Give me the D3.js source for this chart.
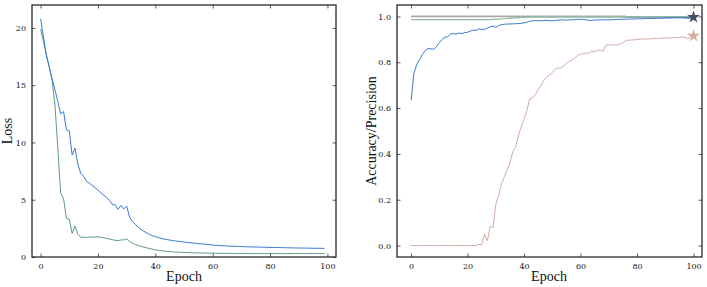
<!DOCTYPE html>
<html><head><meta charset="utf-8">
<script src="https://cdn.jsdelivr.net/npm/d3@7"></script>
<style>
html,body{margin:0;padding:0;background:#fff;}
svg{display:block;}
.tick text{font-family:"DejaVu Serif",serif;font-size:8px;fill:#111;}
.lab{font-family:"Liberation Serif","DejaVu Serif",serif;font-size:14px;fill:#111;}
</style></head><body>
<svg id="c" width="707" height="287"></svg>
<script>
// ---------- DATA ----------
const epochsLoss = d3.range(0, 100);
const lossBlue = [20.8,19.2,17.6,16.6,15.6,14.6,13.6,12.5,12.7,11.1,
11.0,8.9,9.5,8.1,7.3,7.05,6.6,6.45,6.25,6.05,
5.85,5.6,5.4,5.2,4.95,4.6,4.55,4.15,4.5,4.2,
4.45,3.5,3.1,2.85,2.6,2.4,2.25,2.1,1.97,1.86,
1.78,1.7,1.63,1.57,1.52,1.48,1.44,1.4,1.37,1.34,
1.31,1.28,1.25,1.22,1.2,1.17,1.15,1.12,1.1,1.08,
1.04,1.02,1.0,0.99,0.98,0.96,0.95,0.94,0.93,0.92,
0.91,0.9,0.89,0.885,0.88,0.87,0.865,0.86,0.85,0.845,
0.84,0.835,0.83,0.825,0.82,0.81,0.805,0.8,0.795,0.79,
0.785,0.78,0.78,0.775,0.77,0.765,0.76,0.76,0.755,0.75];
const lossGreen = [19.9,18.8,17.7,16.6,15.4,13.3,9.5,5.6,5.1,3.35,
3.3,2.05,2.7,2.0,1.7,1.75,1.7,1.75,1.72,1.75,
1.76,1.72,1.68,1.62,1.57,1.52,1.46,1.42,1.5,1.48,
1.6,1.35,1.2,1.1,1.0,0.93,0.86,0.8,0.74,0.68,
0.62,0.58,0.55,0.52,0.49,0.47,0.45,0.43,0.42,0.41,
0.4,0.39,0.38,0.37,0.36,0.355,0.35,0.345,0.34,0.335,
0.33,0.33,0.325,0.32,0.32,0.315,0.315,0.31,0.31,0.31,
0.305,0.305,0.305,0.3,0.3,0.3,0.3,0.3,0.3,0.3,
0.3,0.3,0.3,0.3,0.3,0.3,0.3,0.3,0.3,0.3,
0.3,0.3,0.3,0.3,0.3,0.3,0.3,0.3,0.3,0.3];

const epochsAcc = d3.range(0, 101);
const accBlue = [0.634,0.753,0.79,0.812,0.834,0.851,0.861,0.858,0.857,0.868,
0.886,0.9,0.91,0.911,0.924,0.925,0.923,0.928,0.925,0.93,
0.931,0.936,0.94,0.939,0.946,0.943,0.944,0.949,0.955,0.958,
0.953,0.96,0.964,0.966,0.967,0.967,0.968,0.968,0.969,0.97,
0.972,0.975,0.979,0.981,0.982,0.982,0.981,0.982,0.983,0.982,
0.981,0.982,0.984,0.985,0.985,0.984,0.985,0.986,0.986,0.987,
0.988,0.987,0.985,0.983,0.983,0.984,0.985,0.985,0.986,0.985,
0.985,0.986,0.986,0.987,0.987,0.988,0.988,0.989,0.989,0.989,
0.99,0.99,0.99,0.991,0.991,0.991,0.991,0.992,0.992,0.992,
0.993,0.993,0.993,0.994,0.994,0.994,0.994,0.993,0.992,0.992,0.993];
const precPink = [0,0,0,0,0,0,0,0,0,0,
0,0,0,0,0,0,0,0,0,0,
0,0,0,0,0.005,0.003,0.05,0.02,0.085,0.078,
0.18,0.22,0.27,0.3,0.33,0.36,0.41,0.43,0.48,0.52,
0.55,0.59,0.64,0.645,0.66,0.68,0.7,0.72,0.735,0.745,
0.755,0.77,0.775,0.775,0.785,0.795,0.805,0.81,0.82,0.83,
0.835,0.838,0.84,0.84,0.85,0.845,0.852,0.852,0.848,0.875,
0.875,0.876,0.876,0.876,0.88,0.885,0.895,0.897,0.897,0.898,
0.9,0.9,0.902,0.901,0.903,0.902,0.904,0.903,0.905,0.905,
0.906,0.907,0.906,0.908,0.908,0.909,0.91,0.909,0.902,0.912,0.915];
const accGreen = [0.986,0.986,0.986,0.986,0.986,0.986,0.986,0.986,0.986,0.986,
0.986,0.986,0.986,0.986,0.986,0.986,0.986,0.986,0.986,0.986,
0.986,0.986,0.986,0.986,0.986,0.986,0.986,0.986,0.986,0.987,
0.987,0.988,0.989,0.99,0.991,0.992,0.993,0.994,0.995,0.996,
0.997,0.997,0.998,0.998,0.999,0.999,0.999,0.999,0.999,0.999,
0.999,0.999,0.999,0.999,0.999,0.999,0.999,0.999,0.999,0.999,
0.999,0.999,0.999,0.999,0.999,0.999,0.999,0.999,0.999,0.999,
0.999,0.999,0.999,0.999,0.999,0.999,0.999,0.999,0.999,0.999,
0.999,0.999,0.999,0.999,0.999,0.999,0.999,0.999,0.999,0.999,
0.999,0.999,0.999,0.999,0.999,0.999,0.999,0.999,0.999,0.999,0.999];
const accGray = [1,1,1,1,1,1,1,1,1,1,1,1,1,1,1,1,1,1,1,1,
1,1,1,1,1,1,1,1,1,1,1,1,1,1,1,1,1,1,1,1,
1,1,1,1,1,1,1,1,1,1,1,1,1,1,1,1,1,1,1,1,
1,1,1,1,1,1,1,1,1,1,1,1,1,1,1,1,1];
const accNavy = [1,1,1,1,1,1,1,1,1,1,1,1,1,1,1,1,1,1,1,1,
1,1,1,1,1,1,1,1,1,1,1,1,1,1,1,1,1,1,1,1,
0.999,0.999,0.999,0.999,0.999,0.999,0.999,0.999,0.999,0.999,
0.999,0.999,0.999,0.999,0.999,0.999,0.999,0.999,0.999,0.999,
0.999,0.999,0.999,0.999,0.999,0.999,0.999,0.999,0.999,0.999,
0.999,0.999,0.999,0.999,0.999,0.999,0.998,0.998,0.998,0.998,
0.998,0.998,0.998,0.998,0.998,0.998,0.998,0.998,0.998,0.998,
0.997,0.997,0.997,0.997,0.997,0.997,0.997,0.997,0.997,0.997,0.997];
const starPoints = [{x:100, y:0.997, c:"#4a4a68"}, {x:100, y:0.915, c:"#d3aba4"}];

const lossTicksX = [0,20,40,60,80,100];
const lossTicksY = [0,5,10,15,20];
const accTicksX = [0,20,40,60,80,100];
const accTicksY = [0,0.2,0.4,0.6,0.8,1.0];

// ---------- DRAW ----------
const svg = d3.select("#c");

function frame(g, x, y, tx, ty, fmtY) {
  const [x0, x1] = x.range(), [y0, y1] = y.range();
  const tl = 3.5;
  g.append("g").attr("transform", `translate(0,${y0})`)
    .call(d3.axisBottom(x).tickValues(tx).tickSize(-tl).tickPadding(6).tickFormat(d3.format("d")))
    .call(a => a.select(".domain").remove());
  g.append("g").attr("transform", `translate(0,${y1})`)
    .call(d3.axisTop(x).tickValues(tx).tickSize(-tl).tickFormat(""))
    .call(a => a.select(".domain").remove());
  g.append("g").attr("transform", `translate(${x0},0)`)
    .call(d3.axisLeft(y).tickValues(ty).tickSize(-tl).tickPadding(6).tickFormat(fmtY))
    .call(a => a.select(".domain").remove());
  g.append("g").attr("transform", `translate(${x1},0)`)
    .call(d3.axisRight(y).tickValues(ty).tickSize(-tl).tickFormat(""))
    .call(a => a.select(".domain").remove());
  g.selectAll(".tick line").attr("stroke", "#333").attr("stroke-width", 0.8);
  g.append("rect").attr("x", x0).attr("y", y1).attr("width", x1 - x0).attr("height", y0 - y1)
    .attr("fill", "none").attr("stroke", "#2a2a2a").attr("stroke-width", 1.3);
}

// Left: Loss
const xL = d3.scaleLinear().domain([-3, 103]).range([32, 336]);
const yL = d3.scaleLinear().domain([0, 22]).range([257, 5]);
const gL = svg.append("g");
const lineL = arr => d3.line().x((d, i) => xL(epochsLoss[i])).y(d => yL(d))(arr);
gL.append("path").attr("d", lineL(lossGreen)).attr("fill", "none").attr("stroke", "#5f9a82").attr("stroke-width", 1);
gL.append("path").attr("d", lineL(lossBlue)).attr("fill", "none").attr("stroke", "#3a78d2").attr("stroke-width", 1);
frame(gL, xL, yL, lossTicksX, lossTicksY, d3.format("d"));
gL.append("text").attr("class", "lab").attr("text-anchor", "middle")
  .attr("transform", `translate(12,${(5 + 257) / 2}) rotate(-90)`).text("Loss");
gL.append("text").attr("class", "lab").attr("text-anchor", "middle")
  .attr("x", 184).attr("y", 281).text("Epoch");

// Right: Accuracy/Precision
const xR = d3.scaleLinear().domain([-5, 103]).range([397, 702]);
const yR = d3.scaleLinear().domain([-0.05, 1.05]).range([257, 5]);
const gR = svg.append("g");
const lineR = arr => d3.line().x((d, i) => xR(epochsAcc[i])).y(d => yR(d))(arr);
gR.append("path").attr("d", lineR(accNavy)).attr("fill", "none").attr("stroke", "#4a4a68").attr("stroke-width", 1.1);
gR.append("path").attr("d", lineR(accGray)).attr("fill", "none").attr("stroke", "#a9a9ab").attr("stroke-width", 1.8);
gR.append("path").attr("d", lineR(accGreen)).attr("fill", "none").attr("stroke", "#8db8a3").attr("stroke-width", 1.2);
gR.append("path").attr("d", lineR(precPink)).attr("fill", "none").attr("stroke", "#d3aba4").attr("stroke-width", 1);
gR.append("path").attr("d", lineR(accBlue)).attr("fill", "none").attr("stroke", "#3a78d2").attr("stroke-width", 1);
const star = d3.symbol().type(d3.symbolStar).size(50);
gR.selectAll(".star").data(starPoints).join("path")
  .attr("transform", d => `translate(${xR(d.x)},${yR(d.y)})`)
  .attr("d", star).attr("fill", d => d.c);
frame(gR, xR, yR, accTicksX, accTicksY, d3.format(".1f"));
gR.append("text").attr("class", "lab").attr("text-anchor", "middle")
  .attr("transform", `translate(376,${(5 + 257) / 2}) rotate(-90)`).text("Accuracy/Precision");
gR.append("text").attr("class", "lab").attr("text-anchor", "middle")
  .attr("x", 549).attr("y", 281).text("Epoch");
</script></body></html>
